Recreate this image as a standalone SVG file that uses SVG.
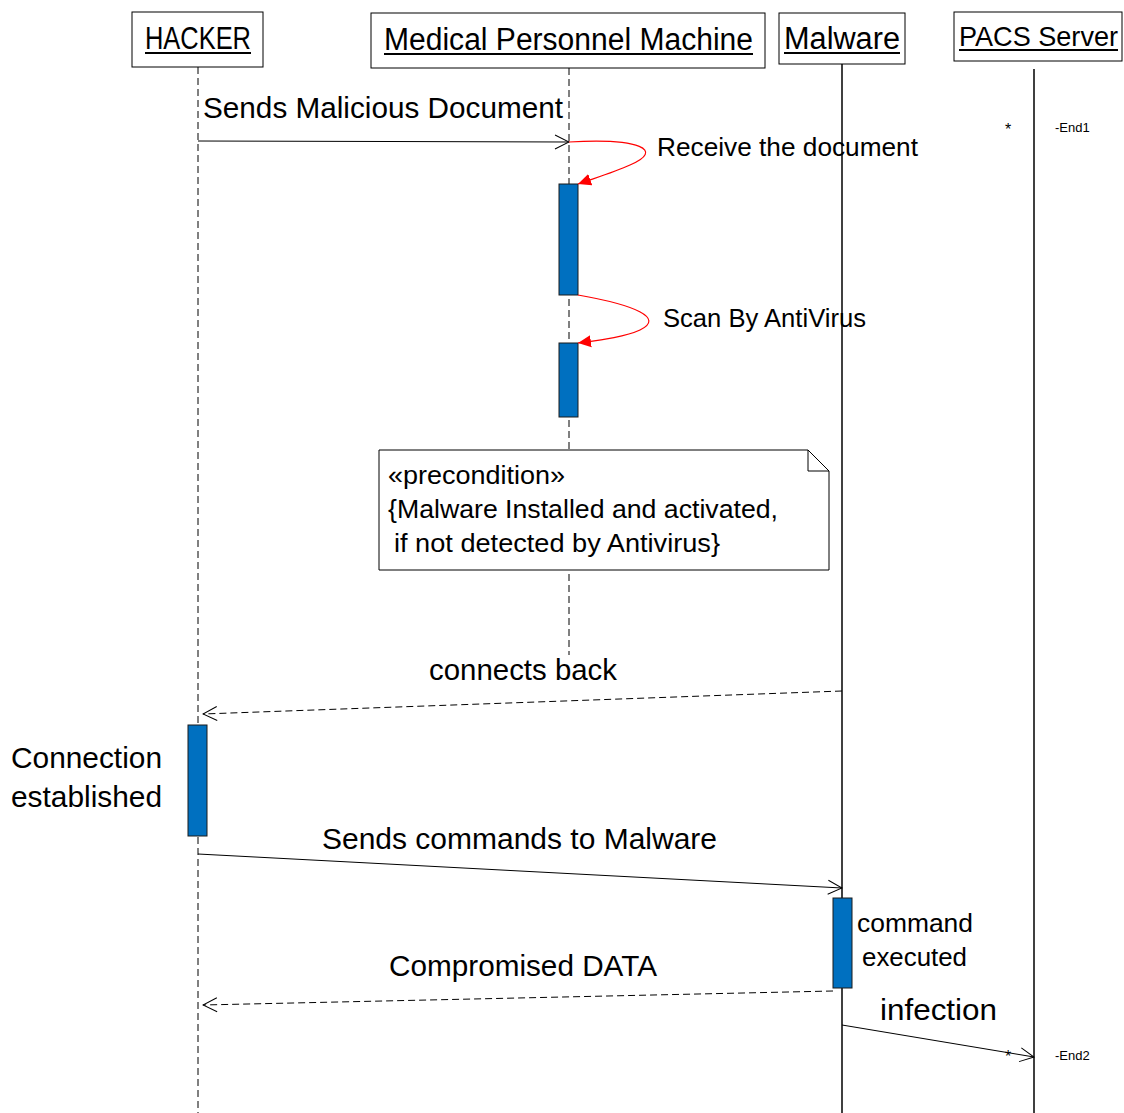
<svg xmlns="http://www.w3.org/2000/svg" width="1124" height="1113" viewBox="0 0 1124 1113">
<defs>
<style>
text{font-family:"Liberation Sans",Arial,sans-serif;fill:#000}
.hd{font-size:31px}
.hs{font-size:28px}
.lb{font-size:29px}
.md{font-size:25px}
.sm{font-size:13px}
.st{font-size:16px}
.box{fill:#fff;stroke:#000;stroke-width:1}
.act{fill:#0070C0;stroke:#1a1a1a;stroke-width:1}
.ll{stroke:#000;stroke-width:1;stroke-dasharray:7,4;fill:none}
.lls{stroke:#000;stroke-width:1.5;fill:none}
.msg{stroke:#000;stroke-width:1;fill:none}
.ret{stroke:#000;stroke-width:1;fill:none;stroke-dasharray:7,4}
.self{stroke:#ff0000;stroke-width:1.2;fill:none}
.ul{stroke:#000;stroke-width:2}
</style>
<marker id="open" markerWidth="16" markerHeight="16" refX="15" refY="8" orient="auto" markerUnits="userSpaceOnUse">
<path d="M1,1 L15,8 L1,15" fill="none" stroke="#000" stroke-width="1"/>
</marker>
<marker id="red" markerWidth="14" markerHeight="14" refX="13" refY="7" orient="auto" markerUnits="userSpaceOnUse">
<path d="M0,1 L13,7 L0,13 Z" fill="#ff0000"/>
</marker>
</defs>
<rect width="1124" height="1113" fill="#fff"/>

<g id="lifelines">
<line class="ll" x1="198" y1="67" x2="198" y2="1113"/>
<line class="ll" x1="569" y1="68" x2="569" y2="655"/>
<line class="lls" x1="842" y1="64" x2="842" y2="1113"/>
<line class="lls" x1="1034" y1="69" x2="1034" y2="1113"/>
</g>

<g id="hacker">
<rect class="box" x="132" y="12" width="131" height="55"/>
<text class="hd" x="145" y="49" textLength="106" lengthAdjust="spacingAndGlyphs">HACKER</text>
<line class="ul" x1="145" y1="53" x2="251" y2="53"/>
</g>
<g id="medical">
<rect class="box" x="371" y="13" width="394" height="55"/>
<text class="hd" x="384" y="50" textLength="369" lengthAdjust="spacingAndGlyphs">Medical Personnel Machine</text>
<line class="ul" x1="384" y1="54" x2="753" y2="54"/>
</g>
<g id="malware">
<rect class="box" x="779" y="13" width="126" height="51"/>
<text class="hd" x="784" y="49" textLength="116" lengthAdjust="spacingAndGlyphs">Malware</text>
<line class="ul" x1="784" y1="53" x2="900" y2="53"/>
</g>
<g id="pacs">
<rect class="box" x="954" y="12" width="168" height="49"/>
<text class="hs" x="959" y="46" textLength="159" lengthAdjust="spacingAndGlyphs">PACS Server</text>
<line class="ul" x1="959" y1="50" x2="1118" y2="50"/>
</g>

<g id="activations">
<rect class="act" x="559" y="184" width="19" height="111"/>
<rect class="act" x="559" y="343" width="19" height="74"/>
<rect class="act" x="188" y="725" width="19" height="111"/>
<rect class="act" x="833" y="898" width="19" height="90"/>
</g>

<g id="note">
<path class="box" d="M379,450 H808 L829,471 V570 H379 Z"/>
<path d="M808,450 V471 H829" fill="none" stroke="#000" stroke-width="1"/>
<text class="md" x="388" y="484" textLength="177" lengthAdjust="spacingAndGlyphs">«precondition»</text>
<text class="md" x="388" y="518" textLength="390" lengthAdjust="spacingAndGlyphs">{Malware Installed and activated,</text>
<text class="md" x="394" y="552" textLength="326" lengthAdjust="spacingAndGlyphs">if not detected by Antivirus}</text>
</g>

<g id="connectors">
<line class="msg" x1="198" y1="141" x2="569" y2="142" marker-end="url(#open)"/>
<path class="self" d="M569,142 C640,138 665,150 630,165 C615,172 595,178 578,184" marker-end="url(#red)"/>
<path class="self" d="M578,295 C635,305 665,318 640,330 C625,337 600,340 578,343" marker-end="url(#red)"/>
<line class="ret" x1="842" y1="691" x2="203" y2="714" marker-end="url(#open)"/>
<line class="msg" x1="198" y1="854" x2="842" y2="888" marker-end="url(#open)"/>
<line class="ret" x1="833" y1="991" x2="203" y2="1005" marker-end="url(#open)"/>
<line class="msg" x1="842" y1="1025" x2="1034" y2="1057" marker-end="url(#open)"/>
</g>

<g id="labels">
<text class="lb" x="203" y="118" textLength="360" lengthAdjust="spacingAndGlyphs">Sends Malicious Document</text>
<text class="md" x="657" y="156" textLength="261" lengthAdjust="spacingAndGlyphs">Receive the document</text>
<text class="md" x="663" y="327" textLength="203" lengthAdjust="spacingAndGlyphs">Scan By AntiVirus</text>
<text class="lb" x="429" y="680" textLength="188" lengthAdjust="spacingAndGlyphs">connects back</text>
<text class="lb" x="11" y="768" textLength="151" lengthAdjust="spacingAndGlyphs">Connection</text>
<text class="lb" x="11" y="807" textLength="151" lengthAdjust="spacingAndGlyphs">established</text>
<text class="lb" x="322" y="849" textLength="395" lengthAdjust="spacingAndGlyphs">Sends commands to Malware</text>
<text class="md" x="857" y="932" textLength="116" lengthAdjust="spacingAndGlyphs">command</text>
<text class="md" x="862" y="966" textLength="105" lengthAdjust="spacingAndGlyphs">executed</text>
<text class="lb" x="389" y="976" textLength="268" lengthAdjust="spacingAndGlyphs">Compromised DATA</text>
<text class="lb" x="880" y="1020" textLength="117" lengthAdjust="spacingAndGlyphs">infection</text>
<text class="st" x="1005" y="135">*</text>
<text class="sm" x="1055" y="132">-End1</text>
<text class="st" x="1005" y="1062">*</text>
<text class="sm" x="1055" y="1060">-End2</text>
</g>
</svg>
